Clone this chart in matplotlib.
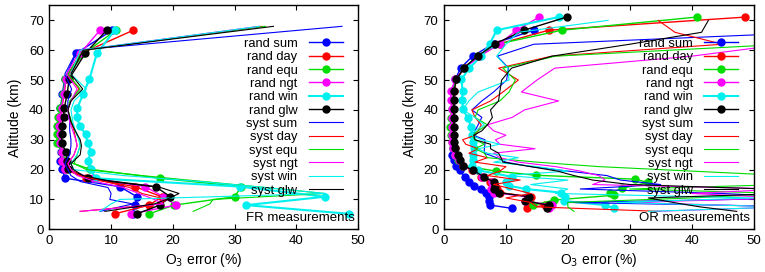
import numpy as np
import matplotlib
matplotlib.use("Agg")
import matplotlib.pyplot as plt

plt.rcParams['font.family'] = ['Liberation Sans', 'DejaVu Sans']
plt.rcParams['font.size'] = 9

nan = np.nan
series_names = ["sum", "day", "equ", "ngt", "win", "glw"]
colors = {"sum": "#0000ff", "day": "#ff0000", "equ": "#00dd00",
          "ngt": "#ff00ff", "win": "#00f0f0", "glw": "#000000"}

# ---------------- FR measurements (left) ----------------
fr_alt = [5.2, 8.1, 10.9, 14.3, 17.1, 20.1, 23.0, 26.0, 28.8, 31.8, 34.6, 37.5, 40.5, 45.4, 50.4, 58.9, 66.7]
fr_rand_sum = [13.5, 13.9, 14.2, 11.4, 2.6, 2.0, 1.8, 1.9, 1.6, 1.5, 1.4, 1.6, 1.8, 2.1, 2.5, 4.3, 10.2]
fr_rand_day = [10.6, 16.2, 18.2, 13.9, 6.0, 2.5, 2.0, 2.0, 1.7, 1.6, 1.5, 1.7, 2.0, 2.4, 2.7, 5.2, 13.6]
fr_rand_equ = [16.2, 20.2, 30.0, 31.1, 17.9, 6.6, 2.6, 2.0, 1.3, 1.2, 1.2, 1.4, 1.8, 2.2, 2.6, 5.6, 10.8]
fr_rand_ngt = [13.3, 20.5, 18.5, 15.5, 7.0, 2.5, 2.0, 2.0, 1.8, 1.7, 1.6, 1.8, 2.0, 2.3, 2.7, 5.0, 8.2]
fr_rand_win = [48.5, 31.9, 44.6, 30.9, 7.5, 6.7, 6.2, 6.8, 6.2, 5.9, 4.9, 4.5, 4.5, 5.5, 6.5, 7.7, 10.6]
fr_rand_glw = [14.2, 17.9, 19.6, 17.2, 6.3, 3.0, 2.9, 2.7, 2.0, 2.0, 2.0, 2.3, 2.4, 2.9, 3.2, 5.8, 9.3]

fr_syst_alt = [6.0, 8.5, 10.0, 12.0, 14.0, 16.0, 18.0, 20.0, 22.0, 25.0, 28.0, 30.0, 33.0, 36.0, 40.0, 43.0, 47.0, 52.0, 60.0, 68.0]
fr_syst_sum = [8.2, 13.5, 9.8, 10.0, 9.5, 5.0, 3.5, 3.0, 2.5, 3.3, 3.5, 3.5, 3.3, 3.3, 3.0, 3.0, 3.6, 2.5, 4.5, 47.4]
fr_syst_day = [5.0, 18.0, 19.0, 15.0, 13.0, 9.0, 5.0, 3.5, 3.0, 4.0, 4.5, 4.3, 4.0, 3.5, 3.0, 3.5, 4.8, 3.0, 5.5, 34.5]
fr_syst_equ = [23.3, 26.0, 26.5, 44.5, 35.0, 25.0, 15.0, 6.0, 4.0, 4.5, 5.0, 4.8, 4.2, 3.6, 3.0, 3.3, 5.0, 3.0, 5.5, 35.0]
fr_syst_ngt = [5.0, 18.5, 17.0, 14.5, 12.0, 7.5, 4.5, 3.5, 3.0, 4.0, 4.5, 4.3, 3.8, 3.3, 3.0, 3.5, 4.5, 2.8, 5.0, 34.0]
fr_syst_win = [8.2, 10.0, 11.4, 44.8, 35.0, 24.4, 12.0, 4.0, 3.5, 4.5, 5.0, 4.8, 4.2, 3.8, 3.5, 4.0, 6.0, 3.5, 5.0, 34.0]
fr_syst_glw = [9.0, 17.0, 19.0, 21.0, 18.0, 10.0, 5.5, 3.9, 3.5, 5.0, 5.2, 5.0, 4.2, 3.5, 3.0, 3.5, 5.4, 3.5, 5.5, 36.3]

# ---------------- OR measurements (right) ----------------
or_alt = [7.0, 8.1, 9.5, 10.9, 12.3, 13.5, 14.6, 15.9, 17.6, 19.8, 21.3, 23.2, 24.9, 27.1, 29.3, 31.5, 34.3, 37.2, 40.2, 43.3, 46.4, 50.2, 54.1, 58.0, 62.2, 66.7, 71.1]
or_rand_sum = [11.0, 7.5, 7.3, 7.2, 6.7, 5.9, 4.8, 4.0, 3.3, 2.6, 2.0, 1.6, 1.3, 1.4, 1.4, 1.4, 1.4, 1.4, 1.4, 1.4, 1.5, 1.8, 2.7, 4.6, 8.0, 14.5, nan]
or_rand_day = [13.4, 16.3, 13.5, 14.0, 9.0, 8.5, 8.0, 7.5, 6.0, 4.5, 3.0, 2.4, 2.0, 1.7, 1.5, 1.5, 1.5, 1.5, 1.5, 1.5, 1.6, 2.0, 3.3, 5.6, 9.0, 16.9, 48.7]
or_rand_ngt = [17.0, 17.4, 13.0, 13.5, 8.0, 7.6, 8.0, 7.8, 6.2, 4.6, 3.0, 2.4, 1.8, 1.5, 1.3, 1.2, 1.2, 1.3, 1.2, 1.1, 1.1, 1.8, 3.3, 5.8, 9.0, 11.7, 15.4]
or_rand_win = [27.5, 26.0, 19.3, 19.5, 18.9, 13.2, 10.5, 10.0, 10.9, 5.5, 4.5, 4.6, 4.7, 4.8, 4.6, 4.5, 4.4, 3.8, 3.1, 2.9, 3.0, 2.8, 4.1, 6.0, 7.4, 8.5, 18.5]
or_rand_glw = [16.7, 16.9, 13.1, 13.7, 8.8, 8.1, 8.2, 8.0, 6.4, 4.7, 3.1, 2.6, 2.2, 1.8, 1.6, 1.6, 1.6, 1.6, 1.6, 1.6, 1.6, 2.0, 3.2, 5.4, 8.3, 12.9, 19.8]
or_equ_alt = [8.1, 9.8, 11.4, 12.0, 13.7, 15.7, 16.8, 18.1, 19.5, 21.3, 23.2, 24.9, 27.1, 29.3, 31.5, 34.3, 37.2, 40.2, 43.3, 46.4, 50.2, 54.1, 58.0, 62.2, 66.7, 71.1]
or_rand_equ = [14.4, 17.8, 27.4, 26.8, 28.7, 33.0, 30.8, 14.8, 8.4, 3.0, 2.2, 1.8, 1.4, 1.2, 1.1, 1.0, 1.1, 1.2, 1.3, 1.5, 1.9, 3.2, 5.5, 9.0, 19.0, 40.8]

or_syst_alt = [6, 7.5, 9, 10.5, 12, 13.5, 15, 16.5, 18, 19.5, 21, 22.5, 24, 25.5, 27, 28.5, 30, 31.5, 33, 35, 37.5, 40, 43, 46, 50, 54, 58, 62, 66, 70]
or_syst_sum = [60, 60, 20, 60, 45, 22, 35, 28.5, 26.3, 20, 14, 10, 8.5, 6.5, 6.5, 6.6, 6.6, 4.7, 5.0, 5.5, 6.1, 4.5, 6.1, 8.0, 10.1, 10.4, 8.6, 14.5, 60, nan]
or_syst_day = [35, 15, 14, 10, 14, 11, 8.0, 12.3, 7, 9, 10, 5, 7.0, 4.0, 5.5, 3.5, 3.0, 5.0, 5.5, 6.0, 5.0, 4.5, 7.5, 9.5, 12.0, 8.8, 17.4, 45, 37.3, 34.6]
or_syst_equ = [21, 20, 20, 40, 55, 30, 55, 55, 55, 40, 25, 15, 7.0, 6.5, 5.0, 6.5, 5.0, 4.5, 5.5, 7.0, 5.0, 5.5, 9.0, 10.5, 11.5, 9.5, 18, 55, 55, 55]
or_syst_ngt = [34, 55, 30, 55, 40, 55, 24, 26, 25, 22, 18, 12, 9, 8, 14.7, 9, 8.3, 10, 8.0, 7.0, 11, 13, 18.5, 12.5, 15, 17.9, 40, 55, 55, 55]
or_syst_win = [33, 55, 28, 50, 18, 20, 14, 20, 10, 20, 15, 8.0, 12.0, 7.0, 5.5, 9.0, 6.0, 4.5, 5.0, 6.5, 5.0, 3.0, 4.0, 5.5, 10.5, 10.3, 8.5, 10, 12, 26.5]
or_syst_glw = [47.3, 41.4, 37.0, 33.0, 55.0, 52.0, 30.0, 24.0, 21.0, 18.3, 14.0, 9.5, 9.2, 8.8, 7.5, 7.5, 5.0, 4.8, 6.1, 7.0, 7.8, 7.5, 8.8, 9.0, 9.3, 10.9, 17.4, 30.0, 41.6, 42.7]

panels = [
    dict(label="FR measurements",
         rand=[(fr_alt, fr_rand_sum), (fr_alt, fr_rand_day), (fr_alt, fr_rand_equ),
               (fr_alt, fr_rand_ngt), (fr_alt, fr_rand_win), (fr_alt, fr_rand_glw)],
         syst=[(fr_syst_alt, v) for v in [fr_syst_sum, fr_syst_day, fr_syst_equ,
                                          fr_syst_ngt, fr_syst_win, fr_syst_glw]]),
    dict(label="OR measurements",
         rand=[(or_alt, or_rand_sum), (or_alt, or_rand_day), (or_equ_alt, or_rand_equ),
               (or_alt, or_rand_ngt), (or_alt, or_rand_win), (or_alt, or_rand_glw)],
         syst=[(or_syst_alt, v) for v in [or_syst_sum, or_syst_day, or_syst_equ,
                                          or_syst_ngt, or_syst_win, or_syst_glw]]),
]

fig = plt.figure(figsize=(7.65, 2.72), dpi=100)
ax_pos = [[0.0645, 0.157, 0.4035, 0.823], [0.5805, 0.157, 0.4045, 0.823]]

for pos, p in zip(ax_pos, panels):
    ax = fig.add_axes(pos)
    handles = []
    labels = []
    for name, (alt, vals) in zip(series_names, p["rand"]):
        lw = 1.5 if name == "win" else 1.0
        h, = ax.plot(vals, alt, color=colors[name], lw=lw, marker='o', ms=5.0)
        handles.append(h)
        labels.append("rand " + name)
    for name, (alt, vals) in zip(series_names, p["syst"]):
        h, = ax.plot(vals, alt, color=colors[name], lw=0.8)
        handles.append(h)
        labels.append("syst " + name)
    ax.set_xlim(0, 50)
    ax.set_ylim(0, 75)
    ax.set_xticks([0, 10, 20, 30, 40, 50])
    ax.set_yticks([0, 10, 20, 30, 40, 50, 60, 70])
    ax.tick_params(direction='in', top=True, right=True, length=3.5, width=0.8,
                   labelsize=9.5, pad=4)
    for s in ax.spines.values():
        s.set_linewidth(1.0)
    ax.set_xlabel("O$_3$ error (%)", fontsize=10, labelpad=3)
    ax.set_ylabel("Altitude (km)", fontsize=10, labelpad=5)
    ax.legend(handles, labels, loc='upper right', bbox_to_anchor=(0.95, 0.855),
              frameon=False, markerfirst=False, borderpad=0, borderaxespad=0,
              handlelength=2.6, handletextpad=0.9, labelspacing=0.1,
              fontsize=9.3, numpoints=1)
    ax.text(0.99, 0.025, p["label"], transform=ax.transAxes, ha='right', va='bottom',
            fontsize=9.5)

fig.savefig("out.png", dpi=100)
